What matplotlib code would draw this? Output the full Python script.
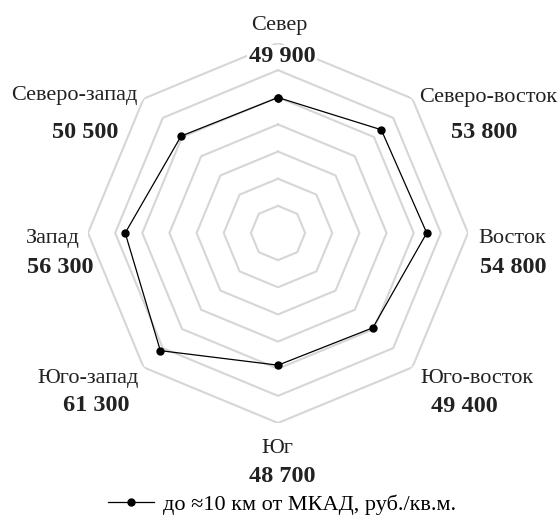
import numpy as np
import matplotlib
matplotlib.use("Agg")
import matplotlib.pyplot as plt

plt.rcParams['font.family'] = ['Liberation Serif', 'DejaVu Serif']

# данные
napravleniya = ["Север", "Северо-восток", "Восток", "Юго-восток",
                "Юг", "Юго-запад", "Запад", "Северо-запад"]
ceny = [49900, 53800, 54800, 49400, 48700, 61300, 56300, 50500]
urovni = [10000, 20000, 30000, 40000, 50000, 60000, 70000]
legenda = "до ≈10 км от МКАД, руб./кв.м."

# где стоят подписи (пиксели): x названия, базовая линия, x цены, базовая линия
podpisi = [
    (279, 30, 282, 62),
    (488, 102, 484, 138),
    (512, 243, 513, 273),
    (477, 383, 464, 412),
    (277, 453, 282, 482),
    (88, 383, 96, 411),
    (53, 243, 60, 273),
    (74, 100, 85, 138),
]

W, H = 560, 517
fig = plt.figure(figsize=(W / 100, H / 100), dpi=100)
ax = fig.add_axes([88 / W, 94 / H, 380 / W, 380 / H], projection='polar')
ax.set_theta_zero_location('N')
ax.set_theta_direction(-1)

n = len(napravleniya)
ugly = np.linspace(0, 2 * np.pi, n, endpoint=False)
ugly_z = np.append(ugly, ugly[0])

for u in urovni:
    ax.plot(ugly_z, [u] * (n + 1), color='#d6d6d6', lw=1.5, zorder=1)

znach = ceny + [ceny[0]]
line, = ax.plot(ugly_z, znach, color='black', lw=0.9, marker='o',
                markersize=5, zorder=3, label=legenda)

ax.set_ylim(0, max(urovni))
ax.grid(False)
ax.spines['polar'].set_visible(False)
ax.set_xticks([])
ax.set_yticks([])
ax.patch.set_alpha(0)

fon = dict(facecolor='white', edgecolor='none', pad=1)
for name, val, (xn, yn, xv, yv) in zip(napravleniya, ceny, podpisi):
    fig.text(xn / W, 1 - yn / H, name, ha='center', va='baseline',
             fontsize=16, color='#222222', bbox=fon)
    txt = f"{val:,}".replace(",", " ")
    fig.text(xv / W, 1 - yv / H, txt, ha='center', va='baseline',
             fontsize=17.5, fontweight='bold', color='#222222', bbox=fon)

fig.legend(handles=[line], loc='lower center', bbox_to_anchor=(282 / W, -0.005),
           frameon=False, fontsize=16, handlelength=2.1, handletextpad=0.4,
           borderpad=0.2, borderaxespad=0)

fig.savefig("out.png", dpi=100, facecolor='white')
